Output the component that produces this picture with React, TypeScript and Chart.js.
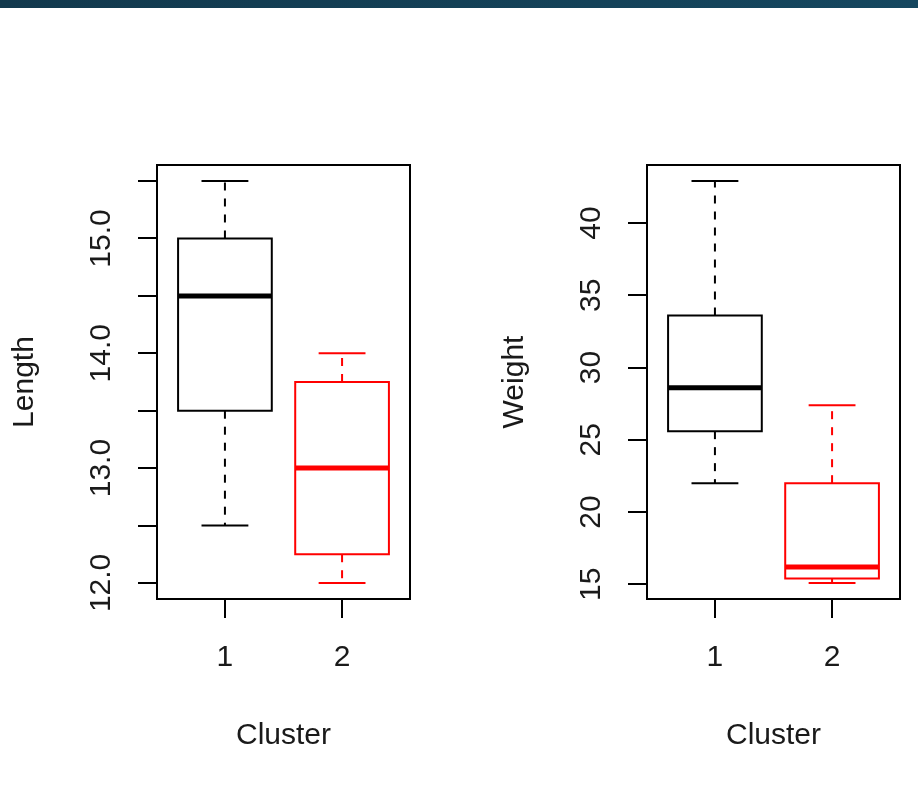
import { useEffect, useRef } from 'react';
import { Chart, registerables } from 'chart.js';

Chart.register(...registerables);

// ---------- data ----------
const clusters = [1, 2];
const clusterLabels = ['1', '2'];
const clusterColors = ['#000000', '#ff0000'];

const lengthMin = [12.5, 12.0];
const lengthQ1 = [13.5, 12.25];
const lengthMedian = [14.5, 13.0];
const lengthQ3 = [15.0, 13.75];
const lengthMax = [15.5, 14.0];

const weightMin = [22.0, 15.1];
const weightQ1 = [25.6, 15.4];
const weightMedian = [28.6, 16.2];
const weightQ3 = [33.6, 22.0];
const weightMax = [42.9, 27.4];

const lengthTicks = [12, 12.5, 13, 13.5, 14, 14.5, 15, 15.5];
const lengthTickLabels = ['12.0', '', '13.0', '', '14.0', '', '15.0', ''];
const weightTicks = [15, 20, 25, 30, 35, 40];
const weightTickLabels = ['15', '20', '25', '30', '35', '40'];

// ---------- styling ----------
const FONT_FAMILY = '"Liberation Sans", Arial, Helvetica, sans-serif';
const FONT_SIZE = 30;
const TEXT_COLOR = '#1a1a1a';
const BOX_HALF = 0.4;
const CAP_HALF = 0.2;

function boxDatasets(mins: number[], q1s: number[], meds: number[], q3s: number[], maxs: number[]) {
  const ds: any[] = [];
  clusters.forEach((c, i) => {
    const col = clusterColors[i];
    const base = {
      borderColor: col,
      backgroundColor: col,
      pointRadius: 0,
      pointHoverRadius: 0,
      showLine: true,
      fill: false,
      tension: 0,
      borderCapStyle: 'butt',
      borderJoinStyle: 'miter',
    };
    // box
    ds.push({
      ...base,
      borderWidth: 2,
      borderCapStyle: 'square',
      data: [
        { x: c - BOX_HALF, y: q1s[i] },
        { x: c + BOX_HALF, y: q1s[i] },
        { x: c + BOX_HALF, y: q3s[i] },
        { x: c - BOX_HALF, y: q3s[i] },
        { x: c - BOX_HALF, y: q1s[i] },
      ],
    });
    // median
    ds.push({
      ...base,
      borderWidth: 5,
      data: [
        { x: c - BOX_HALF, y: meds[i] },
        { x: c + BOX_HALF, y: meds[i] },
      ],
    });
    // whiskers
    ds.push({
      ...base,
      borderWidth: 2,
      borderDash: [8, 8],
      data: [
        { x: c, y: q3s[i] },
        { x: c, y: maxs[i] },
      ],
    });
    ds.push({
      ...base,
      borderWidth: 2,
      borderDash: [8, 8],
      data: [
        { x: c, y: q1s[i] },
        { x: c, y: mins[i] },
      ],
    });
    // staples
    ds.push({
      ...base,
      borderWidth: 2,
      data: [
        { x: c - CAP_HALF, y: maxs[i] },
        { x: c + CAP_HALF, y: maxs[i] },
      ],
    });
    ds.push({
      ...base,
      borderWidth: 2,
      data: [
        { x: c - CAP_HALF, y: mins[i] },
        { x: c + CAP_HALF, y: mins[i] },
      ],
    });
  });
  return ds;
}

const rFramePlugin = {
  id: 'rframe',
  afterDraw(chart: any, _args: any, opts: any) {
    const { ctx, chartArea: a } = chart;
    const yScale = chart.scales.y;
    ctx.save();
    ctx.strokeStyle = '#000';
    ctx.lineWidth = 2;
    ctx.setLineDash([]);
    ctx.strokeRect(a.left, a.top, a.right - a.left, a.bottom - a.top);
    ctx.fillStyle = TEXT_COLOR;
    ctx.font = `${FONT_SIZE}px ${FONT_FAMILY}`;
    ctx.textAlign = 'center';
    ctx.textBaseline = 'alphabetic';
    (opts.values || []).forEach((v: number, i: number) => {
      const lbl = opts.labels[i];
      if (!lbl) return;
      ctx.save();
      ctx.translate(a.left - 47, yScale.getPixelForValue(v));
      ctx.rotate(-Math.PI / 2);
      ctx.fillText(lbl, 0, 0);
      ctx.restore();
    });
    ctx.restore();
  },
};

function makeConfig(
  mins: number[],
  q1s: number[],
  meds: number[],
  q3s: number[],
  maxs: number[],
  yTicks: number[],
  yTickLabels: string[],
  yTitle: string,
  padRight: number
): any {
  const lo = Math.min(...mins);
  const hi = Math.max(...maxs);
  const ext = (hi - lo) * 0.04;
  const xlo = 0.5;
  const xhi = clusters.length + 0.5;
  const xext = (xhi - xlo) * 0.04;
  const font = { family: FONT_FAMILY, size: FONT_SIZE, lineHeight: 1.2 };
  return {
    type: 'scatter',
    data: { datasets: boxDatasets(mins, q1s, meds, q3s, maxs) },
    plugins: [rFramePlugin],
    options: {
      responsive: false,
      animation: false,
      devicePixelRatio: 1,
      events: [],
      layout: { padding: { left: 0, top: 165, right: padRight, bottom: 0 } },
      plugins: {
        legend: { display: false },
        tooltip: { enabled: false },
        rframe: { values: yTicks, labels: yTickLabels },
      },
      scales: {
        x: {
          type: 'linear',
          position: 'bottom',
          min: xlo - xext,
          max: xhi + xext,
          bounds: 'data',
          afterBuildTicks: (axis: any) => {
            axis.ticks = clusters.map((v) => ({ value: v }));
          },
          afterFit: (axis: any) => {
            axis.height = 194;
          },
          grid: {
            drawOnChartArea: false,
            drawTicks: true,
            tickLength: 19,
            color: '#000',
            lineWidth: 2,
          },
          border: { display: false },
          ticks: {
            font,
            color: TEXT_COLOR,
            padding: 22,
            autoSkip: false,
            maxRotation: 0,
            minRotation: 0,
            callback: (_v: any, i: number) => clusterLabels[i],
          },
          title: {
            display: true,
            text: 'Cluster',
            font,
            color: TEXT_COLOR,
            padding: { top: 0, bottom: 39 },
          },
        },
        y: {
          type: 'linear',
          position: 'left',
          min: lo - ext,
          max: hi + ext,
          bounds: 'data',
          afterBuildTicks: (axis: any) => {
            axis.ticks = yTicks.map((v) => ({ value: v }));
          },
          afterFit: (axis: any) => {
            axis.width = 157;
          },
          grid: {
            drawOnChartArea: false,
            drawTicks: true,
            tickLength: 19,
            color: '#000',
            lineWidth: 2,
          },
          border: { display: false },
          ticks: { display: false },
          title: {
            display: true,
            text: yTitle,
            font,
            color: TEXT_COLOR,
            padding: { top: 7, bottom: 0 },
          },
        },
      },
    },
  };
}

export default function App() {
  const leftRef = useRef<HTMLCanvasElement>(null);
  const rightRef = useRef<HTMLCanvasElement>(null);

  useEffect(() => {
    document.body.style.margin = '0';
    const c1 = new Chart(
      leftRef.current as HTMLCanvasElement,
      makeConfig(lengthMin, lengthQ1, lengthMedian, lengthQ3, lengthMax, lengthTicks, lengthTickLabels, 'Length', 49)
    );
    const c2 = new Chart(
      rightRef.current as HTMLCanvasElement,
      makeConfig(weightMin, weightQ1, weightMedian, weightQ3, weightMax, weightTicks, weightTickLabels, 'Weight', 18)
    );
    return () => {
      c1.destroy();
      c2.destroy();
    };
  }, []);

  return (
    <div
      style={{
        position: 'absolute',
        left: 0,
        top: 0,
        width: 918,
        height: 793,
        background: '#ffffff',
        overflow: 'hidden',
      }}
    >
      <div
        style={{
          position: 'absolute',
          left: 0,
          top: 0,
          width: 918,
          height: 8,
          background: 'linear-gradient(90deg, #12394d, #15475f)',
        }}
      />
      <canvas
        ref={leftRef}
        width={459}
        height={793}
        style={{ position: 'absolute', left: 0, top: 0, width: 459, height: 793 }}
      />
      <canvas
        ref={rightRef}
        width={428}
        height={793}
        style={{ position: 'absolute', left: 490, top: 0, width: 428, height: 793 }}
      />
    </div>
  );
}
